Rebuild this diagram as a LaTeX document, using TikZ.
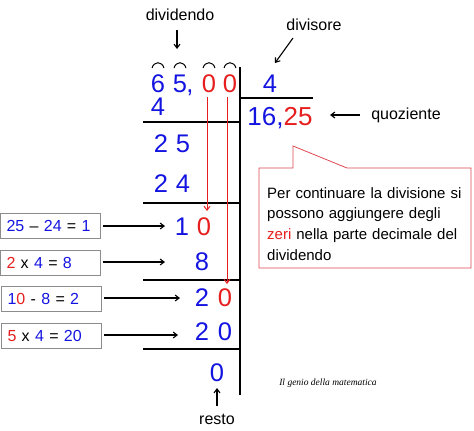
\documentclass[tikz,border=0pt]{standalone}
\usepackage{fontspec}
\setmainfont{Liberation Sans}
\newfontfamily\sigfont{Liberation Serif}
\usetikzlibrary{arrows.meta}
\definecolor{cblue}{RGB}{20,20,225}
\definecolor{cred}{RGB}{230,30,30}
\definecolor{ccall}{RGB}{222,70,82}
\definecolor{cbox}{RGB}{140,140,140}
\begin{document}
\begin{tikzpicture}[x=1pt,y=-1pt,
  dig/.style={font=\fontsize{25.5}{25.5}\selectfont, inner sep=0pt, anchor=base, text=cblue},
  rdig/.style={dig, text=cred},
  lbl/.style={font=\fontsize{16}{16}\selectfont, inner sep=0pt},
  rule/.style={line width=1.8pt},
  arr/.style={line width=1.1pt, -{Straight Barb[length=4pt,width=6pt]}},
  rarr/.style={draw=cred, line width=1pt, -{Straight Barb[length=4pt,width=6pt]}},
  hat/.style={line width=1pt},
  eqbox/.style={draw=cbox, line width=0.9pt, minimum height=25pt, text width=88pt,
    inner xsep=6pt, inner ysep=0pt, align=left, font=\fontsize{16}{16}\selectfont},
]
\useasboundingbox (0,0) rectangle (474,431);

% ---- division frame ----
\coordinate (vtop) at (240,67);
\coordinate (vbot) at (240,395);
\draw[rule] (vtop) -- (vbot);
\coordinate (qa) at (240,98);
\coordinate (qb) at (313,98);
\draw[rule] (qa) -- (qb);
\foreach \n/\y in {h1/122,h2/203,h3/280,h4/349}{
  \coordinate (\n a) at (143,\y);
  \coordinate (\n b) at (240,\y);
  \draw[rule] (\n a) -- (\n b);
}

% ---- dividend ----
\node[dig] (d6) at (158,92) {6};
\node[dig] (d5) at (180,92) {5};
\node[dig] (dc) at (190,92) {,};
\node[rdig] (z1) at (209,92) {0};
\node[rdig] (z2) at (230,92) {0};
\foreach \x in {158,180,209,230}{
  \draw[hat] (\x-6,68) .. controls (\x-4,61) and (\x+4,61) .. (\x+6,68);
}

% ---- divisor and quotient ----
\node[dig] (dv) at (270,92) {4};
\node[dig, font=\fontsize{26}{26}\selectfont] (quot) at (280,125) {\textcolor{cblue}{16,}\textcolor{cred}{25}};

% ---- steps ----
\node[dig] (s1) at (158,115) {4};
\node[dig] (s2a) at (161,152) {2};
\node[dig] (s2b) at (183,152) {5};
\node[dig] (s3a) at (161,192) {2};
\node[dig] (s3b) at (183,192) {4};
\node[dig] (s4a) at (182,235) {1};
\node[rdig] (s4b) at (204,235) {0};
\node[dig] (s5) at (202,270) {8};
\node[dig] (s6a) at (202,306) {2};
\node[rdig] (s6b) at (225,306) {0};
\node[dig] (s7a) at (202,340) {2};
\node[dig] (s7b) at (225,340) {0};
\node[dig] (rem) at (217,381) {0};

% ---- red arrows bringing down zeros ----
\coordinate (r1s) at (207,97);
\coordinate (r1e) at (207,211);
\coordinate (r2s) at (227,97);
\coordinate (r2e) at (227,284);
\draw[rarr] (r1s) -- (r1e);
\draw[rarr] (r2s) -- (r2e);

% ---- labels ----
\node[lbl] (ldiv) at (180,15) {dividendo};
\coordinate (ldivs) at (177,30);
\coordinate (ldive) at (177,49);
\draw[arr] (ldivs) -- (ldive);

\node[lbl] (ldvs) at (314,25) {divisore};
\coordinate (ldvss) at (293,38);
\coordinate (ldvse) at (275,63);
\draw[arr] (ldvss) -- (ldvse);

\node[lbl] (lquo) at (406,115) {quoziente};
\coordinate (lquos) at (360,115);
\coordinate (lquoe) at (330,115);
\draw[arr] (lquos) -- (lquoe);

\node[lbl] (lres) at (217,419) {resto};
\coordinate (lress) at (217,406);
\coordinate (lrese) at (217,388);
\draw[arr] (lress) -- (lrese);

% ---- callout ----
\draw[ccall, line width=0.8pt] (259,168) -- (293,168) -- (293,146) -- (347,168)
  -- (471,168) -- (471,268) -- (259,268) -- cycle;
\node[inner sep=0pt, anchor=north west, text width=200pt, align=left,
  font=\fontsize{15}{20.7}\selectfont] (note) at (267,187)
  {Per continuare la divisione si\\possono aggiungere degli\\\textcolor{cred}{zeri} nella parte decimale del\\dividendo};

% ---- equation boxes ----
\node[eqbox] (b1) at (50.5,225.5) {\textcolor{cblue}{25} – \textcolor{cblue}{24} = \textcolor{cblue}{1}};
\node[eqbox] (b2) at (50.5,263) {\textcolor{cred}{2} x \textcolor{cblue}{4} = \textcolor{cblue}{8}};
\node[eqbox] (b3) at (51.5,298.5) {\textcolor{cblue}{1}\textcolor{cred}{0} - \textcolor{cblue}{8} = \textcolor{cblue}{2}};
\node[eqbox] (b4) at (51.5,336) {\textcolor{cred}{5} x \textcolor{cblue}{4} = \textcolor{cblue}{20}};
\coordinate (a1) at (165,226);
\coordinate (a2) at (165,262);
\coordinate (a3) at (180,298);
\coordinate (a4) at (178,335);
\draw[arr, shorten <=2pt] (b1.east |- a1) -- (a1);
\draw[arr, shorten <=2pt] (b2.east |- a2) -- (a2);
\draw[arr, shorten <=2pt] (b3.east |- a3) -- (a3);
\draw[arr, shorten <=2pt] (b4.east |- a4) -- (a4);

% ---- signature ----
\node[inner sep=0pt, font=\sigfont\itshape\fontsize{9.5}{9.5}\selectfont] (sig) at (328,383) {Il genio della matematica};
\end{tikzpicture}
\end{document}
